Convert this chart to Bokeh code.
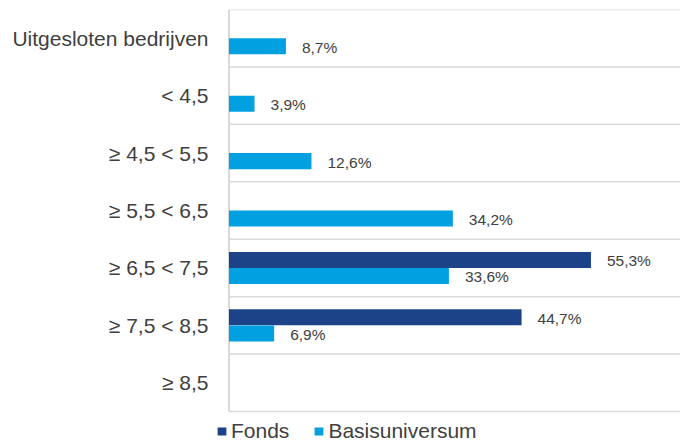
from bokeh.plotting import figure
from bokeh.models import ColumnDataSource, Range1d, FixedTicker, Legend, LegendItem
from bokeh.transform import dodge
from bokeh.core.properties import value
from bokeh.embed import file_html
from bokeh.resources import INLINE

categories = ["Uitgesloten bedrijven", "< 4,5", "\u2265 4,5 < 5,5", "\u2265 5,5 < 6,5",
              "\u2265 6,5 < 7,5", "\u2265 7,5 < 8,5", "\u2265 8,5"]
fonds = [0.0, 0.0, 0.0, 0.0, 55.3, 44.7, 0.0]
basis = [8.7, 3.9, 12.6, 34.2, 33.6, 6.9, 0.0]
series_names = ["Fonds", "Basisuniversum"]

FONDS_COLOR = "#1C4387"
BASIS_COLOR = "#00A0E1"
TEXT_COLOR = "#404040"
GRID_COLOR = "#D9D9D9"
FONT = "Liberation Sans"

n = len(categories)
ypos = [n - 1 - i for i in range(n)]  # first category on top

def fmt(v):
    return ("%.1f%%" % v).replace(".", ",")

src_f = ColumnDataSource(dict(y=ypos, val=fonds))
src_b = ColumnDataSource(dict(y=ypos, val=basis))
lab_f = ColumnDataSource(dict(y=[y for y, v in zip(ypos, fonds) if v > 0],
                              val=[v for v in fonds if v > 0],
                              txt=[fmt(v) for v in fonds if v > 0]))
lab_b = ColumnDataSource(dict(y=[y for y, v in zip(ypos, basis) if v > 0],
                              val=[v for v in basis if v > 0],
                              txt=[fmt(v) for v in basis if v > 0]))

X_START, X_END = -2.06, 68.98
Y_BOTTOM_EXTRA = 0.522  # room for the legend below the bands

p = figure(width=680, height=441, output_backend="svg", toolbar_location=None,
           x_range=Range1d(X_START, X_END),
           y_range=Range1d(-0.5 - Y_BOTTOM_EXTRA, n - 0.5),
           min_border_left=215, min_border_right=0, min_border_top=9, min_border_bottom=0)
p.outline_line_color = None
p.background_fill_color = "white"
p.border_fill_color = "white"
p.xaxis.visible = False
p.xgrid.visible = False
p.ygrid.visible = False

# band separators and left border line
bounds = [k - 0.5 for k in range(n + 1)]
p.segment(x0=[0] * len(bounds), x1=[X_END] * len(bounds), y0=bounds, y1=bounds,
          line_color=GRID_COLOR, line_width=1.5)
p.segment(x0=[0], x1=[0], y0=[bounds[0]], y1=[bounds[-1]],
          line_color=GRID_COLOR, line_width=2)

off = 0.14
h = 0.279
rf = p.hbar(y=dodge("y", off), right="val", left=0, height=h,
            source=src_f, fill_color=FONDS_COLOR, line_color=None)
rb = p.hbar(y=dodge("y", -off), right="val", left=0, height=h,
            source=src_b, fill_color=BASIS_COLOR, line_color=None)

p.text(x="val", y=dodge("y", off), text="txt", source=lab_f,
       x_offset=16, y_offset=1, text_baseline="middle", text_align="left",
       text_font=value(FONT), text_font_size="15.5px", text_color=TEXT_COLOR)
p.text(x="val", y=dodge("y", -off), text="txt", source=lab_b,
       x_offset=16, y_offset=1, text_baseline="middle", text_align="left",
       text_font=value(FONT), text_font_size="15.5px", text_color=TEXT_COLOR)

ax = p.yaxis[0]
ax.ticker = FixedTicker(ticks=ypos)
ax.major_label_overrides = {y: c for y, c in zip(ypos, categories)}
ax.major_tick_line_color = None
ax.minor_tick_line_color = None
ax.major_tick_out = 0
ax.major_tick_in = 0
ax.axis_line_color = None
ax.major_label_standoff = 7
ax.major_label_text_font = FONT
ax.major_label_text_font_size = "21px"
ax.major_label_text_color = TEXT_COLOR

legend = Legend(items=[LegendItem(label=series_names[0], renderers=[rf]),
                       LegendItem(label=series_names[1], renderers=[rb])],
                location=(1, -2), orientation="horizontal",
                padding=0, margin=0, spacing=24, label_standoff=4,
                glyph_width=11, glyph_height=10,
                label_text_font=FONT, label_text_font_size="21px",
                label_text_color=TEXT_COLOR,
                border_line_color=None, background_fill_alpha=0)
p.add_layout(legend, "center")

open("out.html", "w").write(file_html(p, INLINE))
